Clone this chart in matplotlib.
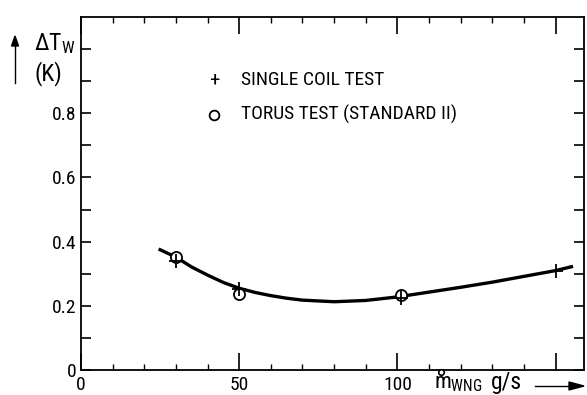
import numpy as np
import matplotlib.pyplot as plt

plt.rcParams['font.family'] = ['Roboto Condensed', 'DejaVu Sans']
plt.rcParams['mathtext.fontset'] = 'custom'
plt.rcParams['mathtext.rm'] = 'Roboto Condensed'
plt.rcParams['mathtext.it'] = 'Roboto Condensed'

# mass flow (g/s) and temperature rise (K)
single_x = [30, 50, 101, 150]
single_y = [0.339, 0.252, 0.226, 0.309]
torus_x = [30, 50, 101]
torus_y = [0.352, 0.236, 0.234]
fit_x = [25, 30, 35, 40, 45, 50, 55, 60, 65, 70, 80, 90, 100, 110, 120, 130,
         140, 150, 155]
fit_y = [0.375, 0.352, 0.321, 0.296, 0.273, 0.255, 0.242, 0.232, 0.224, 0.218,
         0.213, 0.217, 0.228, 0.243, 0.258, 0.274, 0.292, 0.310, 0.322]

xticks = [0, 50, 100, 150]
xticklabels = ['0', '50', '100', '']
yticks = [0, 0.2, 0.4, 0.6, 0.8]
yticklabels = ['0', '0.2', '0.4', '0.6', '0.8']

W, H = 587, 395


def fx(px):
    return px / W


def fy(py):
    return 1 - py / H


fig = plt.figure(figsize=(5.87, 3.95), dpi=100)
ax = fig.add_axes([0.138, 0.063, 0.857, 0.894])

ax.plot(fit_x, fit_y, color='black', lw=2.4, zorder=2)
ax.plot(torus_x, torus_y, 'o', ms=8, mfc='white', mec='black', mew=1.3, zorder=3)
ax.plot(single_x, single_y, '+', ms=10, color='black', mew=1.3, zorder=4)

ax.set_xlim(0, 159)
ax.set_ylim(0, 1.1)

ax.set_xticks(xticks)
ax.set_xticklabels(xticklabels)
ax.set_xticks(np.arange(10, 160, 10), minor=True)
ax.set_yticks(yticks)
ax.set_yticklabels(yticklabels)
ax.set_yticks(np.arange(0.1, 1.05, 0.1), minor=True)

ax.tick_params(axis='x', which='major', direction='in', length=12, width=1.2,
               top=True, labelsize=14, pad=4)
ax.tick_params(axis='x', which='minor', direction='in', length=4, width=1.0, top=True)
ax.tick_params(axis='y', which='both', direction='in', length=7, width=1.2,
               right=True, labelsize=14, pad=3)
for s in ax.spines.values():
    s.set_linewidth(1.3)

# legend written as plain text
ax.text(42, 0.905, '+', fontsize=15, ha='center', va='center')
ax.text(50.5, 0.905, 'SINGLE COIL TEST', fontsize=14, va='center')
ax.plot([42], [0.795], 'o', ms=7, mfc='white', mec='black', mew=1.3, clip_on=False)
ax.text(50.5, 0.795, 'TORUS TEST (STANDARD II)', fontsize=14, va='center')

# y label with upward arrow
fig.text(fx(34), fy(44), r'$\Delta\mathrm{T}_{\mathrm{W}}$', fontsize=17, va='center')
fig.text(fx(35), fy(74), '(K)', fontsize=17, va='center')
fig.add_artist(plt.Line2D([fx(15), fx(15)], [fy(83), fy(44)],
                          transform=fig.transFigure, color='black', lw=1.0))
fig.patches.append(plt.Polygon([[fx(11.5), fy(46)], [fx(18.5), fy(46)], [fx(15), fy(36)]],
                               closed=True, transform=fig.transFigure, color='black'))

# x label: m with a ring on top, subscript WNG, unit and arrow
fig.text(fx(434), fy(383), r'm$_{\mathrm{WNG}}$', fontsize=16, va='center')
fig.add_artist(plt.Line2D([fx(441)], [fy(372)], transform=fig.transFigure, marker='o',
                          ms=4, mfc='white', mec='black', mew=1.2))
fig.text(fx(491), fy(382), 'g/s', fontsize=17, va='center')
fig.add_artist(plt.Line2D([fx(535), fx(572)], [fy(386), fy(386)],
                          transform=fig.transFigure, color='black', lw=1.0))
fig.patches.append(plt.Polygon([[fx(569), fy(382)], [fx(569), fy(390)], [fx(584), fy(386)]],
                               closed=True, transform=fig.transFigure, color='black'))

fig.savefig('out.png', dpi=100)
